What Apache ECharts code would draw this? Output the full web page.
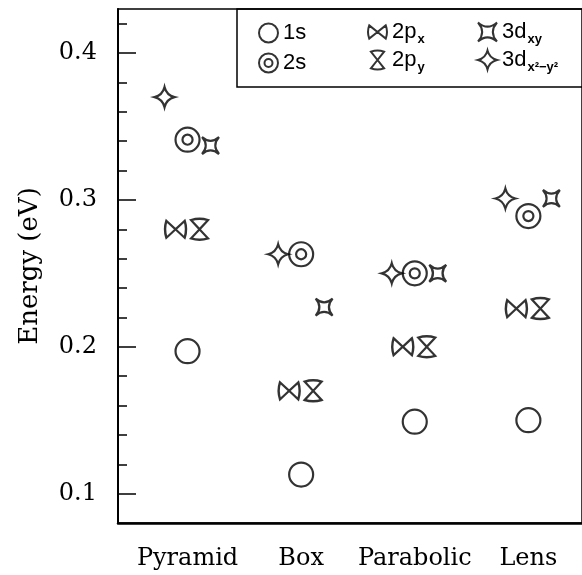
<!DOCTYPE html>
<html>
<head>
<meta charset="utf-8">
<script src="https://cdn.jsdelivr.net/npm/echarts@6/dist/echarts.min.js"></script>
<style>
  html, body { margin: 0; padding: 0; background: #fff; }
  #chart { width: 582px; height: 575px; }
</style>
</head>
<body>
<div id="chart"></div>
<script>
// Quantum-dot shapes along the x axis
const categories = ['Pyramid', 'Box', 'Parabolic', 'Lens'];

// Level energies (eV) for each shape, in category order
const e1s     = [0.197, 0.113, 0.149, 0.150];
const e2s     = [0.341, 0.263, 0.250, 0.289];
const e2px    = [0.280, 0.170, 0.200, 0.226];
const e2py    = [0.280, 0.170, 0.200, 0.226];
const e3dxy   = [0.337, 0.227, 0.250, 0.301];
const e3dx2y2 = [0.370, 0.263, 0.250, 0.301];

// Axis ticks
const yMajorTicks = [0.1, 0.2, 0.3, 0.4];
const yMinorTicks = [0.12, 0.14, 0.16, 0.18, 0.22, 0.24, 0.26, 0.28, 0.32, 0.34, 0.36, 0.38, 0.42];
const xTickIndex  = [0, 1, 2, 3];

// Marker outlines
const P_CIRCLE  = 'path://M0,-10 A10,10 0 1,1 0,10 A10,10 0 1,1 0,-10 Z';
const P_DCIRCLE = 'path://M0,-10 A10,10 0 1,1 0,10 A10,10 0 1,1 0,-10 Z M0,-4.2 A4.2,4.2 0 1,1 0,4.2 A4.2,4.2 0 1,1 0,-4.2 Z';
const P_BOWTIE  = 'path://M-10,-8 L0,0 L-10,8 Q-13,0 -10,-8 Z M10,-8 L0,0 L10,8 Q13,0 10,-8 Z';
const P_HOURGL  = 'path://M-8,-10 L0,0 L8,-10 Q0,-13 -8,-10 Z M-8,10 L0,0 L8,10 Q0,13 -8,10 Z';
const P_DXY     = 'path://M-8,-8 Q0,-1 8,-8 Q1,0 8,8 Q0,1 -8,8 Q-1,0 -8,-8 Z';
const P_STAR4   = 'path://M0,-10 Q2,-2 10,0 Q2,2 0,10 Q-2,2 -10,0 Q-2,-2 0,-10 Z';

const serif = 'DejaVu Serif';
const sans = 'Liberation Sans';

function pts(vals) {
  return vals.map((v, i) => [i, v]);
}

function levelSeries(name, vals, symbol, size, dx) {
  return {
    name: name,
    type: 'scatter',
    data: pts(vals),
    symbol: symbol,
    symbolSize: size,
    symbolOffset: [dx, 0],
    itemStyle: { color: 'transparent', borderColor: '#000', borderWidth: 2.2 },
    emphasis: { disabled: true },
    z: 3
  };
}

const legendLabels = {
  '1s': '{m|1s}',
  '2s': '{m|2s}',
  '2px': '{m|2p}{sub|x}',
  '2py': '{m|2p}{sub|y}',
  '3dxy': '{m|3d}{sub|xy}',
  '3dx2y2': '{m|3d}{sub|x²−y²}'
};

function legendColumn(names, left, top, gap) {
  return {
    data: names,
    orient: 'vertical',
    left: left,
    top: top,
    itemWidth: 19,
    itemHeight: 19,
    itemGap: gap,
    padding: 0,
    selectedMode: false,
    itemStyle: { color: 'transparent', borderColor: '#000', borderWidth: 2 },
    formatter: n => legendLabels[n],
    textStyle: {
      color: '#000',
      rich: {
        m: { fontFamily: sans, fontSize: 22, color: '#000' },
        sub: { fontFamily: sans, fontSize: 13, fontWeight: 'bold', color: '#000', lineHeight: 13, padding: [15, 0, 0, 1] }
      }
    }
  };
}

const chart = echarts.init(document.getElementById('chart'), null, { renderer: 'canvas' });

chart.setOption({
  animation: false,
  backgroundColor: '#fff',
  grid: {
    left: 118, top: 9, right: -3, bottom: 52,
    show: true, borderColor: '#000', borderWidth: 1.5, backgroundColor: 'transparent'
  },
  legend: [
    legendColumn(['1s', '2s'], 258, 22, 8),
    legendColumn(['2px', '2py'], 367, 18, 0),
    legendColumn(['3dxy', '3dx2y2'], 477, 18, 0)
  ],
  graphic: [
    {
      type: 'rect',
      shape: { x: 237, y: 9, width: 360, height: 78 },
      style: { fill: 'transparent', stroke: '#000', lineWidth: 1.5 },
      z: 10
    },
    {
      type: 'text',
      x: 30, y: 266,
      rotation: Math.PI / 2,
      style: {
        text: 'Energy (eV)',
        fontFamily: serif, fontSize: 26, fill: '#000',
        align: 'center', verticalAlign: 'middle'
      }
    }
  ],
  xAxis: {
    type: 'value',
    min: -0.612, max: 3.472,
    axisLine: { show: true, onZero: false, lineStyle: { color: '#000', width: 2.5 } },
    axisTick: { show: false },
    splitLine: { show: false },
    axisLabel: {
      customValues: xTickIndex,
      formatter: v => categories[Math.round(v)],
      margin: 24,
      fontFamily: serif, fontSize: 24, color: '#000'
    }
  },
  yAxis: [
    {
      type: 'value',
      min: 0.08, max: 0.43,
      axisLine: { show: true, onZero: false, lineStyle: { color: '#000', width: 2 } },
      axisTick: { show: true, inside: true, length: 18, customValues: yMajorTicks, lineStyle: { color: '#000', width: 1.5 } },
      axisLabel: {
        customValues: yMajorTicks,
        formatter: v => v.toFixed(1),
        margin: 21,
        fontFamily: serif, fontSize: 24, color: '#000'
      },
      splitLine: { show: false }
    },
    {
      type: 'value',
      min: 0.08, max: 0.43,
      position: 'left',
      axisLine: { show: false, onZero: false },
      axisTick: { show: true, inside: true, length: 9, customValues: yMinorTicks, lineStyle: { color: '#000', width: 1.5 } },
      axisLabel: { show: false },
      splitLine: { show: false }
    }
  ],
  series: [
    levelSeries('1s', e1s, P_CIRCLE, 24, 0),
    levelSeries('2s', e2s, P_DCIRCLE, 24, 0),
    levelSeries('2px', e2px, P_BOWTIE, [21, 17], -12),
    levelSeries('2py', e2py, P_HOURGL, [17, 21], 12),
    levelSeries('3dxy', e3dxy, P_DXY, 17, 23),
    levelSeries('3dx2y2', e3dx2y2, P_STAR4, 20, -23)
  ]
});
</script>
</body>
</html>
